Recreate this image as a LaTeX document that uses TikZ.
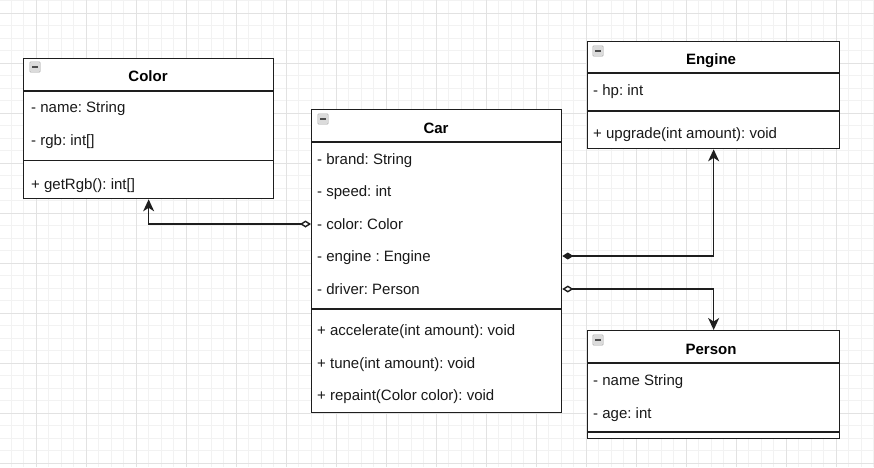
\documentclass[tikz,border=0pt]{standalone}
\usepackage{fontspec}
\setmainfont{Liberation Sans}
\usetikzlibrary{arrows.meta,calc}
\definecolor{linec}{HTML}{1E1E1E}
\definecolor{gridminor}{HTML}{F2F2F2}
\definecolor{gridmajor}{HTML}{E2E2E2}
\frenchspacing
\tikzset{
  classbox/.style={draw=linec, line width=1.3pt, fill=white, anchor=north west, inner sep=0pt},
  sepline/.style={draw=linec, line width=1.3pt},
  titletext/.style={font=\fontsize{15}{17}\selectfont\bfseries, inner sep=0pt, text=black,
    text height=10.7pt, text depth=0pt},
  attr/.style={font=\fontsize{15}{17}\selectfont, anchor=west, inner sep=0pt, text=black!90,
    text height=10.7pt, text depth=0pt},
  icon/.style={draw=gray!65, fill=gray!28, minimum size=10.5pt, inner sep=0pt, rounded corners=1pt,
    path picture={\draw[black!70, line width=1.4pt]
      ($(path picture bounding box.west)+(2.4pt,0)$) -- ($(path picture bounding box.east)+(-2.4pt,0)$);}},
  conn/.style={draw=linec, line width=1.4pt},
}
\begin{document}
\begin{tikzpicture}[x=1pt,y=-1pt]
\useasboundingbox (0,0) rectangle (874,467);
\fill[white] (0,0) rectangle (874,467);
% grid
\foreach \i in {0,...,70} {
  \pgfmathsetmacro{\gx}{-1.5+12.5*\i}
  \draw[gridminor, line width=0.6pt] (\gx,0) -- (\gx,467);
}
\foreach \i in {0,...,38} {
  \pgfmathsetmacro{\gy}{0.5+12.5*\i}
  \draw[gridminor, line width=0.6pt] (0,\gy) -- (874,\gy);
}
\foreach \i in {0,...,17} {
  \pgfmathsetmacro{\gx}{-14+50*\i}
  \draw[gridmajor, line width=0.8pt] (\gx,0) -- (\gx,467);
}
\foreach \i in {0,...,9} {
  \pgfmathsetmacro{\gy}{13+50*\i}
  \draw[gridmajor, line width=0.8pt] (0,\gy) -- (874,\gy);
}

% ---------- Color ----------
\node[classbox, minimum width=250pt, minimum height=140pt] (color) at (23,58) {};
\draw[sepline] (23,91) -- (273,91);
\draw[sepline] (23,160.5) -- (273,160.5);
\node[icon] (colorI) at (35,67) {};
\node[titletext] (colorT) at (148,76) {Color};
\node[attr] (colorA1) at (31,107) {- name: String};
\node[attr] (colorA2) at (31,140) {- rgb: int[]};
\node[attr] (colorM1) at (31,184) {+ getRgb(): int[]};

% ---------- Car ----------
\node[classbox, minimum width=250pt, minimum height=303pt] (car) at (311,109) {};
\draw[sepline] (311,142) -- (561,142);
\draw[sepline] (311,309) -- (561,309);
\node[icon] (carI) at (323,119) {};
\node[titletext] (carT) at (436,128) {Car};
\node[attr] (carA1) at (317,159) {- brand: String};
\node[attr] (carA2) at (317,191) {- speed: int};
\node[attr] (carA3) at (317,224) {- color: Color};
\node[attr] (carA4) at (317,256) {- engine : Engine};
\node[attr] (carA5) at (317,289) {- driver: Person};
\node[attr] (carM1) at (317,330) {+ accelerate(int amount): void};
\node[attr] (carM2) at (317,363) {+ tune(int amount): void};
\node[attr] (carM3) at (317,395) {+ repaint(Color color): void};

% ---------- Engine ----------
\node[classbox, minimum width=252pt, minimum height=107pt] (engine) at (587,41) {};
\draw[sepline] (587,73) -- (839,73);
\draw[sepline] (587,111) -- (839,111);
\node[icon] (engineI) at (598,51) {};
\node[titletext] (engineT) at (711,59) {Engine};
\node[attr] (engineA1) at (593,90) {- hp: int};
\node[attr] (engineM1) at (593,133) {+ upgrade(int amount): void};

% ---------- Person ----------
\node[classbox, minimum width=252pt, minimum height=108pt] (person) at (587,330) {};
\draw[sepline] (587,363) -- (839,363);
\draw[sepline] (587,432) -- (839,432);
\node[icon] (personI) at (598,340) {};
\node[titletext] (personT) at (711,349) {Person};
\node[attr] (personA1) at (593,380) {- name String};
\node[attr] (personA2) at (593,413) {- age: int};

% ---------- Connectors ----------
\draw[conn, {Diamond[length=11pt,width=7pt,fill=white]}-{Stealth[length=12pt,width=11pt,inset=3.5pt]}]
  (car.west |- carA3) -| (color.south);
\draw[conn, {Diamond[length=11pt,width=7pt,fill=linec]}-{Stealth[length=12pt,width=11pt,inset=3.5pt]}]
  (car.east |- carA4) -| (engine.south);
\draw[conn, {Diamond[length=11pt,width=7pt,fill=white]}-{Stealth[length=12pt,width=11pt,inset=3.5pt]}]
  (car.east |- carA5) -| (person.north);
\end{tikzpicture}
\end{document}
